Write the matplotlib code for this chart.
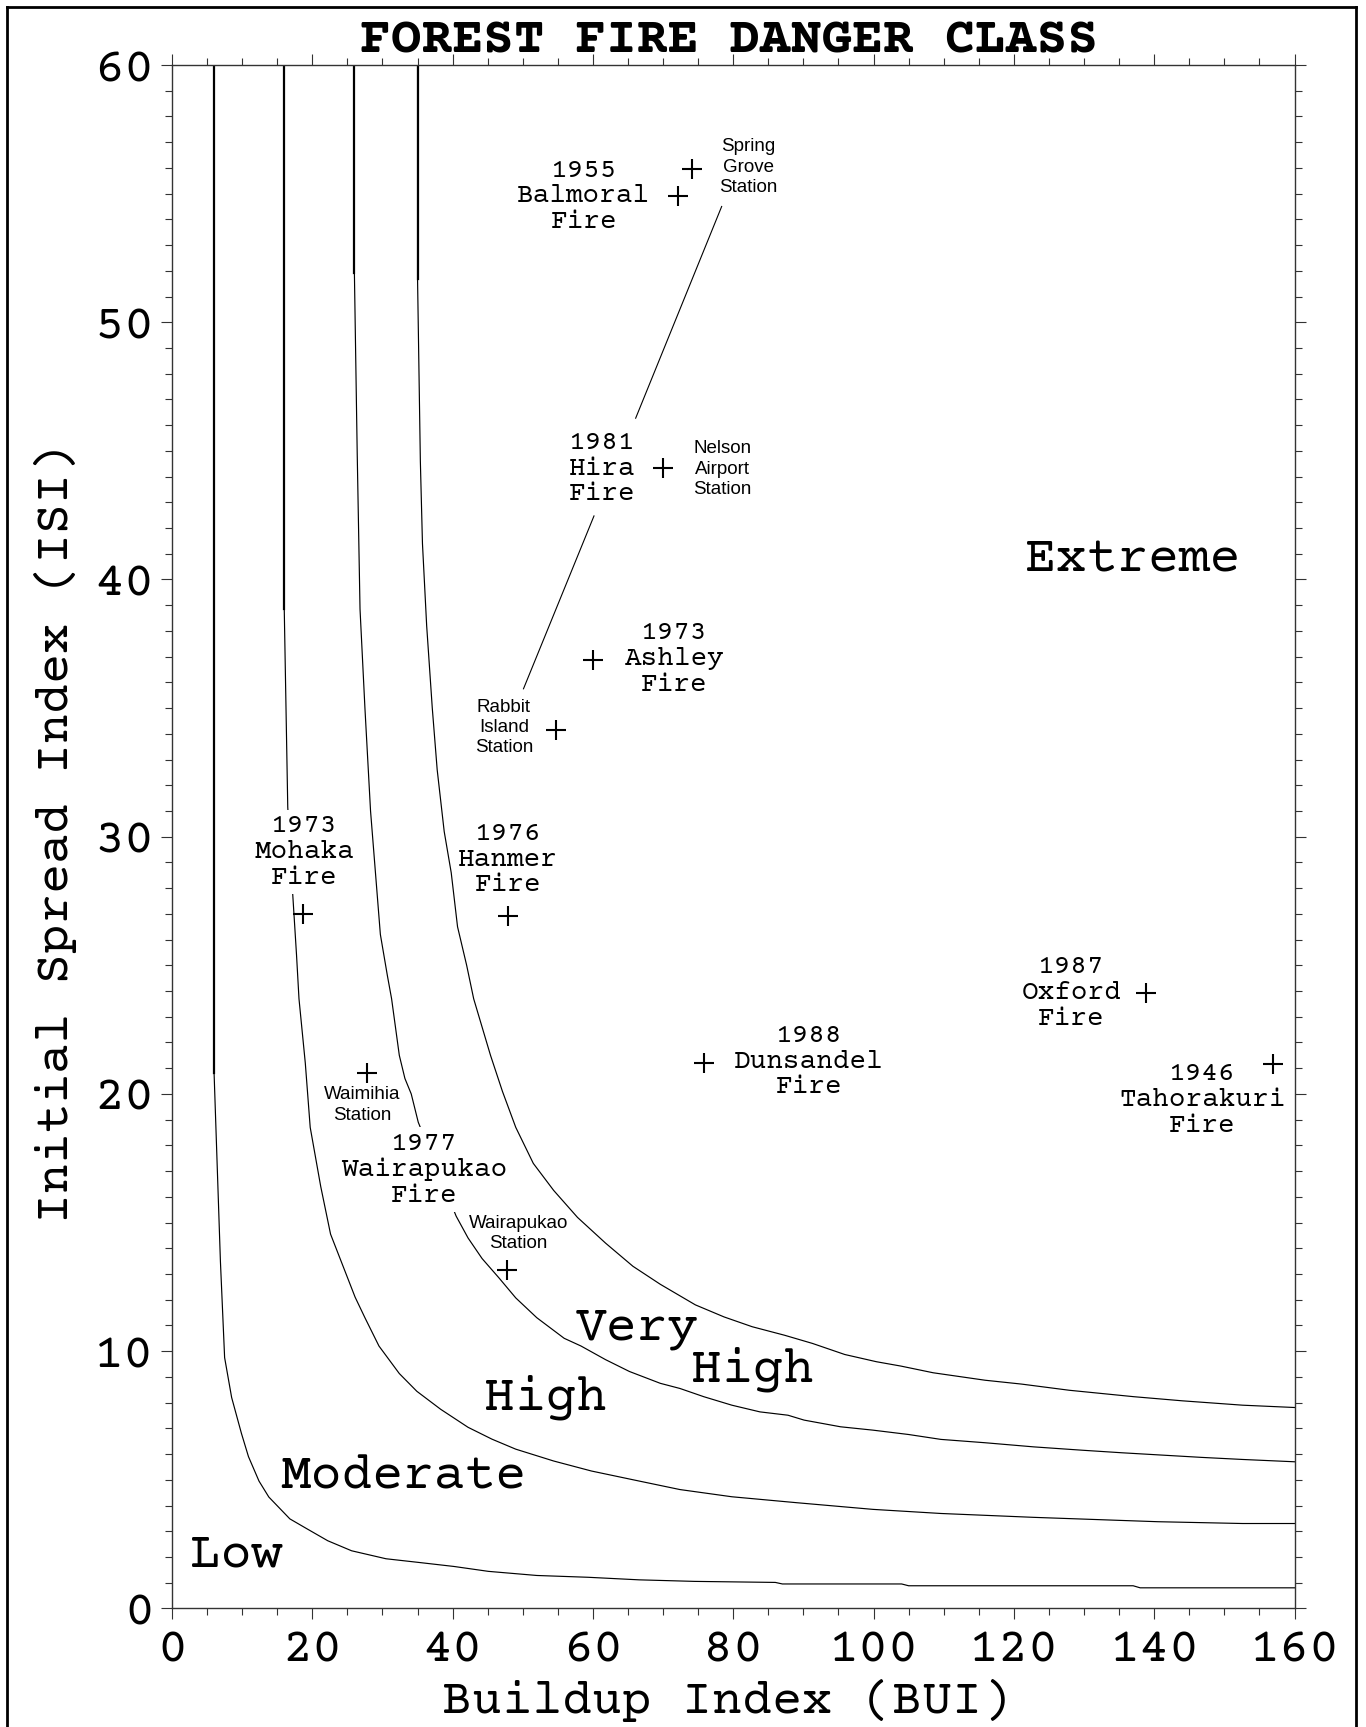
import matplotlib.pyplot as plt
from matplotlib.lines import Line2D
from matplotlib.ticker import MultipleLocator

"""
Forest fire danger class chart: ISI vs BUI class boundaries
with historic fires and stations marked.
"""

# class boundaries (BUI, ISI)
low_bui = [6.0, 6.0, 6.9, 7.5, 8.5, 9.9, 10.9, 12.4, 13.8, 16.8, 19.2, 22.2, 25.6, 30.5,
           35.4, 40.2, 45.1, 52.0, 59.3, 66.6, 74.5, 86.0, 87.0, 104.0, 105.0, 137.0, 138.0, 160.0]
low_isi = [60.0, 20.8, 13.5, 9.75, 8.2, 6.8, 5.9, 4.95, 4.33, 3.48, 3.1, 2.63, 2.24, 1.93,
           1.78, 1.63, 1.44, 1.28, 1.21, 1.11, 1.05, 1.01, 0.95, 0.95, 0.88, 0.88, 0.80, 0.80]

mod_bui = [16.0, 16.0, 16.5, 17.2, 17.75, 18.1, 19.0, 19.7, 21.2, 22.6, 24.1, 26.1, 27.5, 29.5,
           32.4, 34.9, 38.3, 42.2, 45.6, 49.0, 54.4, 59.8, 66.6, 72.4, 79.8, 89.0, 99.9, 109.6,
           122.8, 140.5, 152.6, 160.0]
mod_isi = [60.0, 38.85, 31.15, 27.8, 25.4, 23.7, 21.2, 18.7, 16.4, 14.55, 13.5, 12.1, 11.3, 10.2,
           9.13, 8.44, 7.74, 7.04, 6.58, 6.19, 5.73, 5.34, 4.95, 4.62, 4.34, 4.11, 3.85, 3.69,
           3.54, 3.37, 3.30, 3.30]

high_bui = [26.0, 26.0, 26.4, 26.8, 27.5, 28.3, 29.0, 29.7, 30.7, 31.3, 32.4, 33.2, 34.1, 35.1,
            40.5, 42.2, 44.2, 46.6, 49.0, 52.0, 55.9, 58.3, 61.8, 65.2, 69.6, 72.4, 75.8, 79.8,
            83.8, 87.8, 90.1, 95.3, 99.9, 105.0, 109.6, 115.9, 122.8, 129.7, 135.4, 141.1,
            146.8, 152.6, 160.0]
high_isi = [60.0, 51.9, 44.9, 38.85, 35.0, 31.0, 28.6, 26.2, 24.6, 23.7, 21.5, 20.6, 20.0, 18.9,
            15.25, 14.4, 13.6, 12.85, 12.07, 11.3, 10.5, 10.2, 9.67, 9.21, 8.75, 8.55, 8.23, 7.90,
            7.64, 7.51, 7.32, 7.06, 6.93, 6.76, 6.57, 6.44, 6.28, 6.15, 6.05, 5.96,
            5.87, 5.79, 5.70]

vh_bui = [35.0, 35.0, 35.4, 35.7, 36.3, 37.1, 37.8, 38.8, 39.8, 40.7, 42.0, 43.0, 44.2, 45.4,
          47.1, 49.0, 51.5, 54.4, 57.8, 61.8, 65.7, 69.6, 74.6, 78.7, 82.7, 87.3, 91.3, 95.9,
          100.4, 103.9, 108.5, 115.9, 121.1, 127.9, 137.1, 144.0, 152.6, 160.0]
vh_isi = [60.0, 51.7, 44.6, 41.4, 38.2, 35.0, 32.6, 30.2, 28.6, 26.5, 25.0, 23.7, 22.6, 21.5,
          20.1, 18.7, 17.3, 16.25, 15.2, 14.2, 13.3, 12.6, 11.8, 11.33, 10.95, 10.62, 10.30, 9.87,
          9.59, 9.42, 9.16, 8.87, 8.72, 8.48, 8.23, 8.07, 7.90, 7.81]

# fires and weather stations
site_bui = [18.7, 47.9, 54.8, 60.0, 70.0, 72.1, 74.1, 75.8, 138.8, 156.9, 27.8, 47.7]
site_isi = [27.0, 26.9, 34.15, 36.86, 44.32, 54.89, 55.95, 21.2, 23.94, 21.15, 20.82, 13.16]

fire_labels = ["1955\nBalmoral\nFire", "1981\nHira\nFire", "1973\nAshley\nFire",
               "1976\nHanmer\nFire", "1987\nOxford\nFire", "1988\nDunsandel\nFire",
               "1946\nTahorakuri\nFire"]
fire_lab_x = [58.7, 61.3, 71.6, 47.9, 128.2, 90.8, 146.9]
fire_lab_y = [54.91, 44.33, 36.93, 29.13, 23.94, 21.27, 19.79]

# these two labels sit on top of a class line and blank it out
masked_labels = ["1973\nMohaka\nFire", "1977\nWairapukao\nFire"]
masked_lab_x = [18.9, 35.9]
masked_lab_y = [29.42, 17.06]

station_labels = ["Spring\nGrove\nStation", "Nelson\nAirport\nStation", "Rabbit\nIsland\nStation",
                  "Waimihia\nStation", "Wairapukao\nStation"]
station_lab_x = [82.2, 78.5, 47.3, 27.1, 49.4]
station_lab_y = [56.03, 44.29, 34.25, 19.57, 14.58]

# leader lines (x0, x1), (y0, y1)
leaders = [([78.35, 66.09], [54.50, 46.27]),
           ([60.15, 50.1], [42.47, 35.75]),
           ([26.2, 28.8], [17.77, 16.77]),
           ([43.8, 46.8], [16.44, 15.45])]

class_names = ["Low", "Moderate", "High", "Very", "High", "Extreme"]
class_x = [9.2, 32.9, 53.2, 66.3, 82.7, 136.9]
class_y = [1.63, 4.67, 7.74, 10.45, 8.81, 40.31]

# Courier-like typewriter face for everything except the station notes
MONO = ['Courier Prime', 'Liberation Mono']
plt.rcParams['font.family'] = MONO

W, H = 1366, 1727
fig = plt.figure(figsize=(W / 100, H / 100), dpi=100)
ax = fig.add_axes([172 / W, 1 - 1608.4 / H, 1122.5 / W, 1543.4 / H])
ax.set_xlim(0, 160)
ax.set_ylim(0, 60)

for bui, isi in [(low_bui, low_isi), (mod_bui, mod_isi), (high_bui, high_isi), (vh_bui, vh_isi)]:
    ax.plot(bui, isi, color='black', lw=0.85, zorder=2)
    ax.plot(bui[:2], isi[:2], color='black', lw=1.6, zorder=2)

for xs, ys in leaders:
    ax.plot(xs, ys, color='black', lw=0.8, zorder=2)

ax.plot(site_bui, site_isi, ls='none', marker='+', ms=14.5, mew=1.5, color='black', zorder=5)

for txt, x, y in zip(fire_labels, fire_lab_x, fire_lab_y):
    ax.text(x, y, txt, ha='center', va='center', multialignment='center', fontsize=20,
            linespacing=1.15, zorder=3)
box = dict(facecolor='white', edgecolor='none', pad=3.5)
for txt, x, y in zip(masked_labels, masked_lab_x, masked_lab_y):
    ax.text(x, y, txt, ha='center', va='center', multialignment='center', fontsize=20,
            linespacing=1.15, bbox=box, zorder=3)
for txt, x, y in zip(station_labels, station_lab_x, station_lab_y):
    ax.text(x, y, txt, ha='center', va='center', multialignment='center', fontsize=13.5,
            family='Liberation Sans', linespacing=1.25, zorder=3)
for txt, x, y in zip(class_names, class_x, class_y):
    ax.text(x, y, txt, ha='center', va='baseline', fontsize=37, zorder=3)

# axes, ticks
ax.xaxis.set_major_locator(MultipleLocator(20))
ax.xaxis.set_minor_locator(MultipleLocator(5))
ax.yaxis.set_major_locator(MultipleLocator(10))
ax.yaxis.set_minor_locator(MultipleLocator(1))
ax.tick_params(which='both', direction='out', top=True, right=True, width=0.8, color='#333333')
ax.tick_params(which='major', length=8)
ax.tick_params(which='minor', length=4.7)
ax.tick_params(axis='x', which='major', pad=7, labelsize=36)
ax.tick_params(axis='y', which='major', pad=5, labelsize=36)
for sp in ax.spines.values():
    sp.set_linewidth(1.0)
    sp.set_color('#333333')

ax.set_xlabel("Buildup Index (BUI)", fontsize=36, va='baseline')
ax.xaxis.set_label_coords(0.4944, -0.0678)
ax.set_ylabel("Initial Spread Index (ISI)", fontsize=36, va='baseline')
ax.yaxis.set_label_coords(-0.0927, 0.5024)

fig.text(728.7 / W, 1 - 52.5 / H, "FOREST FIRE DANGER CLASS", ha='center', va='baseline',
         fontsize=37, fontweight='bold')

# outer frame (no bottom edge)
bx0, bx1, by1 = 7 / W, 1356 / W, 1 - 7 / H
fig.add_artist(Line2D([bx0, bx0], [0, by1], color='black', lw=2))
fig.add_artist(Line2D([bx0, bx1], [by1, by1], color='black', lw=2))
fig.add_artist(Line2D([bx1, bx1], [by1, 0], color='black', lw=2))

fig.savefig("out.png", dpi=100)
